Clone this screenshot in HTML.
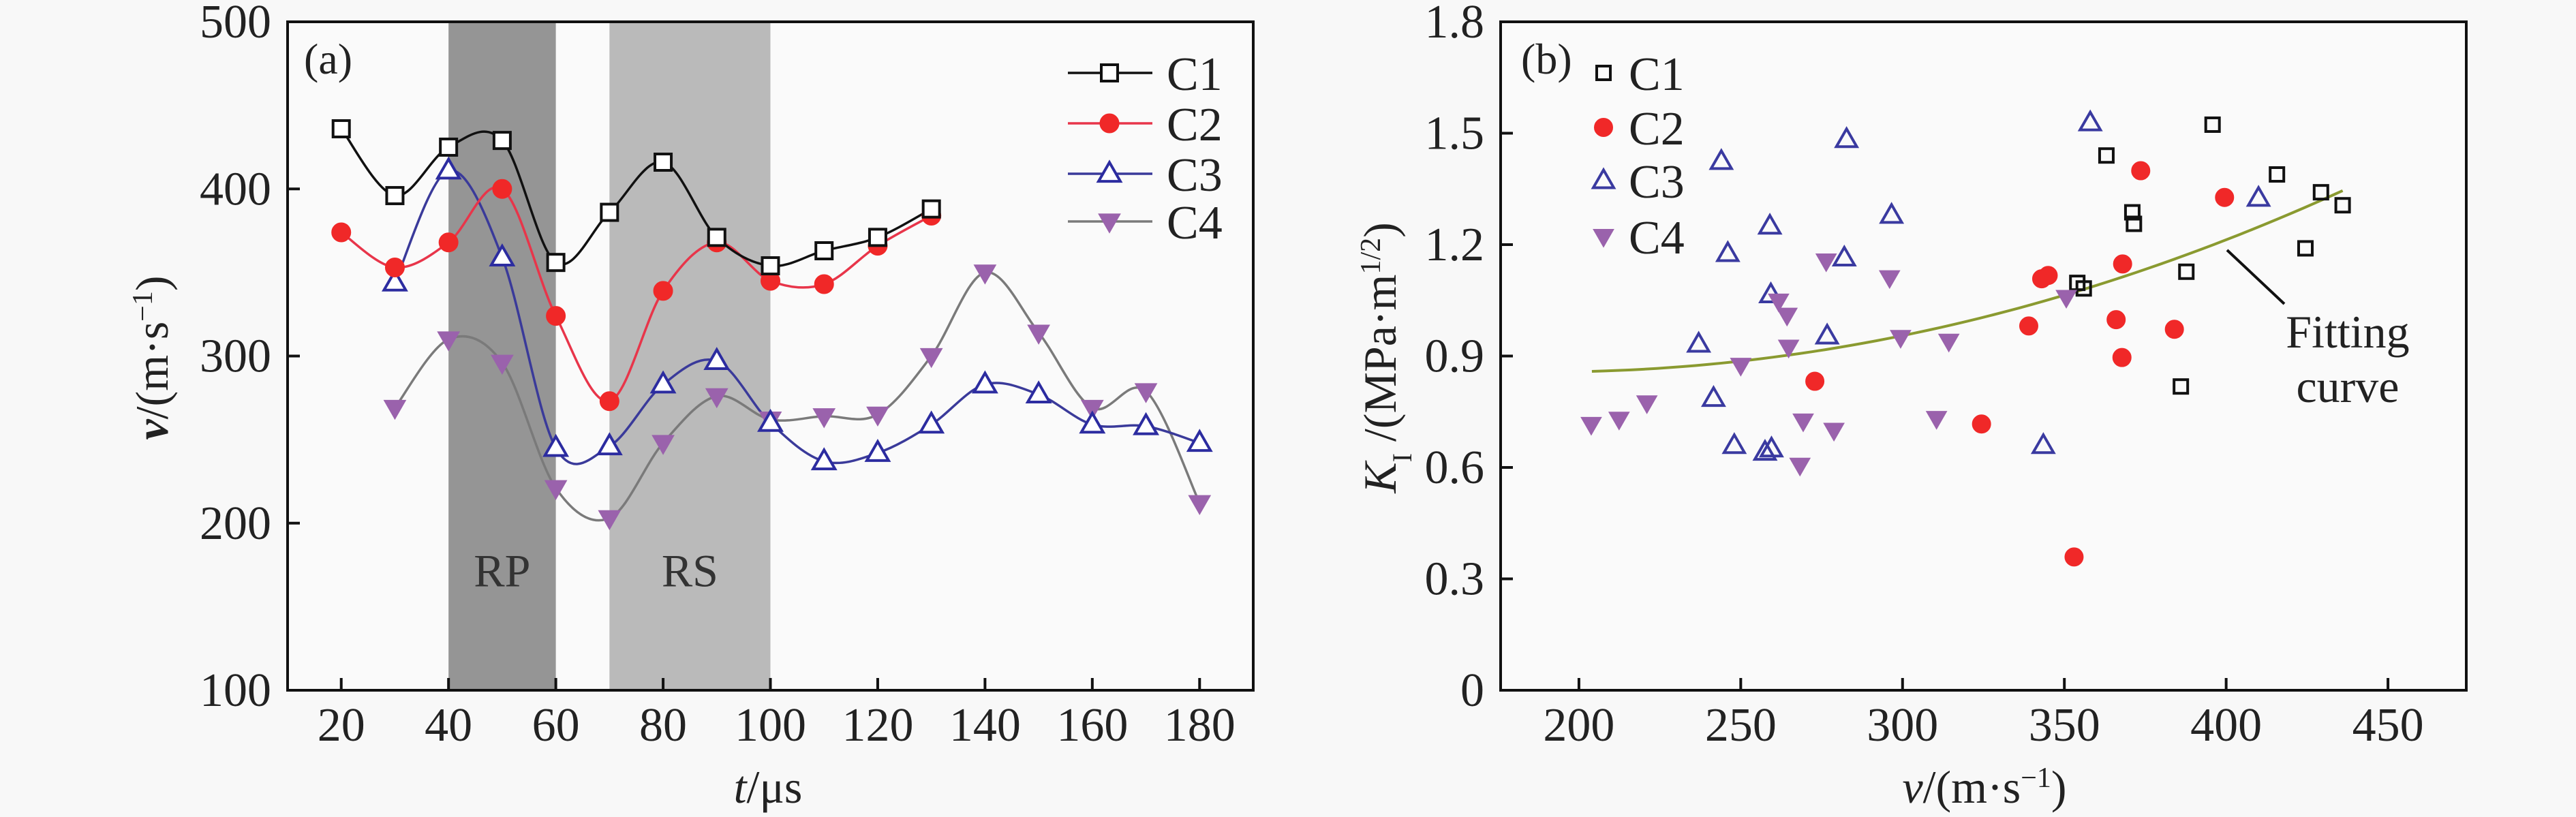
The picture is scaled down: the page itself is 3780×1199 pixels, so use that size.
<!DOCTYPE html>
<html><head><meta charset="utf-8">
<style>
html,body{margin:0;padding:0;background:#f8f8f8;}
svg{display:block;font-family:"Liberation Serif",serif;}
</style></head>
<body>
<svg id="fig" width="3780" height="1199" viewBox="0 0 3780 1199" xmlns="http://www.w3.org/2000/svg">
<rect width="3780" height="1199" fill="#f8f8f8"/>
<g id="pa"></g>
<g id="pb"></g>
</svg>
<script>
// ---- Panel (a) data ----
const aTimes1 = [20,30,40,50,60,70,80,90,100,110,120,130];
const aC1 = [436,396,425,429,356,386,416,371,354,363,371,388];
const aC2 = [374,353,368,400,324,273,339,368,345,343,366,384];
const aTimes3 = [30,40,50,60,70,80,90,100,110,120,130,140,150,160,170,180];
const aC3 = [344,411,359,245,246,283,297,260,237,242,259,283,277,259,258,248];
const aC4 = [269,310,296,221,203,248,276,262,264,265,300,350,314,269,279,212];
const aXTicks = [20,40,60,80,100,120,140,160,180];
const aYTicks = [100,200,300,400,500];
const aBands = [[40,60,'RP'],[70,100,'RS']];

// ---- Panel (b) data ----
const bC1x = [395.8,363,415.7,429.3,436,371,371.5,424.5,387.7,354,356,386];
const bC1y = [1.523,1.44,1.389,1.341,1.306,1.287,1.256,1.19,1.127,1.097,1.082,0.818];
const bC2x = [373.6,399.5,368,343,345,366,339,384,367.8,272.9,324.4,353];
const bC2y = [1.399,1.327,1.148,1.108,1.117,0.998,0.981,0.972,0.896,0.832,0.717,0.359];
const bC3x = [358,282.7,244,296.6,259,246,410,282,259.3,276.7,237,241.6,248,343.5,257.5,259.5];
const bC3y = [1.528,1.483,1.424,1.279,1.25,1.176,1.325,1.164,1.065,0.954,0.932,0.786,0.659,0.659,0.641,0.65];
const bC4x = [203.8,212.4,221,276.4,296,261.7,264.3,264.8,250,299.4,314.3,350.6,269.3,278.8,268.3,310.5];
const bC4y = [0.716,0.73,0.774,1.156,1.111,1.048,1.01,0.924,0.875,0.95,0.94,1.058,0.725,0.70,0.606,0.732];
const bFitCoef = [0.858,0.000165,0.00000805];
const bFitRange = [204,436];
const bXTicks = [200,250,300,350,400,450];
const bYTicks = ['0','0.3','0.6','0.9','1.2','1.5','1.8'];

const NS='http://www.w3.org/2000/svg';
function mk(parent,tag,attrs,text){const e=document.createElementNS(NS,tag);for(const k in attrs)e.setAttribute(k,attrs[k]);if(text!==undefined)e.textContent=text;parent.appendChild(e);return e;}

const T=32,B=1013;
const ax=v=>422+(v-10)/180*(1839-422);
const ay=v=>B-(v-100)/400*(B-T);
const BX0=2202,BX1=3619,BD0=175.8,BD1=474.2;
const bx=v=>BX0+(v-BD0)/(BD1-BD0)*(BX1-BX0);
const by=v=>B-v/1.8*(B-T);

function smooth(pts){
  let d='M'+pts[0][0]+','+pts[0][1];
  for(let i=0;i<pts.length-1;i++){
    const p0=pts[i-1]||pts[i],p1=pts[i],p2=pts[i+1],p3=pts[i+2]||p2;
    const c1=[p1[0]+(p2[0]-p0[0])/6,p1[1]+(p2[1]-p0[1])/6];
    const c2=[p2[0]-(p3[0]-p1[0])/6,p2[1]-(p3[1]-p1[1])/6];
    d+=' C'+c1[0]+','+c1[1]+' '+c2[0]+','+c2[1]+' '+p2[0]+','+p2[1];
  }
  return d;
}
function marker(g,type,x,y,s,fill,stroke){
  let e;
  if(type==='sq') e=mk(g,'rect',{x:x-s/2,y:y-s/2,width:s,height:s,fill:fill,stroke:stroke,'stroke-width':4});
  else if(type==='ci') e=mk(g,'circle',{cx:x,cy:y,r:s/2,fill:fill,stroke:stroke,'stroke-width':1});
  else if(type==='tr'){const h=s*0.87;e=mk(g,'polygon',{points:`${x},${y-h*0.6} ${x-s/2},${y+h*0.4} ${x+s/2},${y+h*0.4}`,fill:fill,stroke:stroke,'stroke-width':4});}
  else {const h=s*0.87;e=mk(g,'polygon',{points:`${x},${y+h*0.6} ${x-s/2},${y-h*0.4} ${x+s/2},${y-h*0.4}`,fill:fill,stroke:stroke,'stroke-width':1});}
  return e;
}

// ---------- Panel A ----------
const pa=document.getElementById('pa');
const plotA=mk(pa,'rect',{x:422,y:T,width:1839-422,height:B-T,fill:'#fafafa'});


aBands.forEach((b,i)=>{
  const r=mk(pa,'rect',{x:ax(b[0]),y:T,width:ax(b[1])-ax(b[0]),height:B-T,fill:i===0?'#959595':'#bababa'});
  
  
  const t=mk(pa,'text',{x:(ax(b[0])+ax(b[1]))/2,y:ay(172)+24,'font-size':68,'text-anchor':'middle',fill:'#333'},b[2]);
  
  
});
const seriesA=[
 {n:'c1',xs:aTimes1,ys:aC1,line:'#111',type:'sq',fill:'#fff',stroke:'#111',s:24},
 {n:'c2',xs:aTimes1,ys:aC2,line:'#e8354a',type:'ci',fill:'#f02828',stroke:'#f02828',s:28},
 {n:'c3',xs:aTimes3,ys:aC3,line:'#3a3a9a',type:'tr',fill:'#fff',stroke:'#2c2ca0',s:32},
 {n:'c4',xs:aTimes3,ys:aC4,line:'#7a7a7a',type:'dn',fill:'#9a62ac',stroke:'#9a62ac',s:32}
];
seriesA.slice().reverse().forEach(s=>{
  const pts=s.xs.map((x,i)=>[ax(x),ay(s.ys[i])]);
  const p=mk(pa,'path',{d:smooth(pts),fill:'none',stroke:s.line,'stroke-width':3.5});
  
  
});
seriesA.slice().reverse().forEach(s=>{
  s.xs.forEach((x,i)=>{
    const m=marker(pa,s.type,ax(x),ay(s.ys[i]),s.s,s.fill,s.stroke);
    
    
  });
});
mk(pa,'rect',{x:422,y:T,width:1839-422,height:B-T,fill:'none',stroke:'#111','stroke-width':4});
aXTicks.forEach(v=>{
  mk(pa,'line',{x1:ax(v),x2:ax(v),y1:B,y2:B-18,stroke:'#111','stroke-width':4});
  const t=mk(pa,'text',{x:ax(v),y:1087,'font-size':70,'text-anchor':'middle',fill:'#222'},v);
  
  
});
aYTicks.forEach(v=>{
  mk(pa,'line',{x1:422,x2:440,y1:ay(v),y2:ay(v),stroke:'#111','stroke-width':4});
  const t=mk(pa,'text',{x:398,y:ay(v)+23,'font-size':70,'text-anchor':'end',fill:'#222'},v);
  
  
});
let t=mk(pa,'text',{x:446,y:108,'font-size':64,fill:'#222'},'(a)');

t=mk(pa,'text',{x:1127,y:1178,'font-size':68,'text-anchor':'middle',fill:'#222'});
t.innerHTML='<tspan font-style="italic">t</tspan>/μs';

t=mk(pa,'text',{x:0,y:0,'font-size':68,'text-anchor':'middle',fill:'#222',transform:'translate(246,525) rotate(-90)'});
t.innerHTML='<tspan font-style="italic" font-weight="bold">v</tspan>/(m·s<tspan baseline-shift="super" font-size="42">−1</tspan>)';

const legA=mk(pa,'g',{});

seriesA.forEach((s,i)=>{
  const y=[107,181,255,325][i];
  mk(legA,'line',{x1:1567,x2:1691,y1:y,y2:y,stroke:s.line,'stroke-width':3.5});
  marker(legA,s.type,1628,y,s.s,s.fill,s.stroke);
  const lt=mk(legA,'text',{x:1712,y:y+25,'font-size':70,fill:'#222'},'C'+(i+1));
  
});

// ---------- Panel B ----------
const pb=document.getElementById('pb');
const plotB=mk(pb,'rect',{x:BX0,y:T,width:BX1-BX0,height:B-T,fill:'#fafafa'});


let fd='';
for(let v=bFitRange[0];v<=bFitRange[1];v+=4){
  const d=v-200;const k=bFitCoef[0]+bFitCoef[1]*d+bFitCoef[2]*d*d;
  fd+=(fd?' L':'M')+bx(v)+','+by(k);
}
const fc=mk(pb,'path',{d:fd,fill:'none',stroke:'#8a9a30','stroke-width':4});

const seriesB=[
 {n:'c1',xs:bC1x,ys:bC1y,type:'sq',fill:'none',stroke:'#111',s:20},
 {n:'c2',xs:bC2x,ys:bC2y,type:'ci',fill:'#f02828',stroke:'#f02828',s:27},
 {n:'c3',xs:bC3x,ys:bC3y,type:'tr',fill:'none',stroke:'#3a3aa0',s:30},
 {n:'c4',xs:bC4x,ys:bC4y,type:'dn',fill:'#9a62ac',stroke:'#9a62ac',s:30}
];
seriesB.forEach(s=>{
  s.xs.forEach((x,i)=>{
    const m=marker(pb,s.type,bx(x),by(s.ys[i]),s.s,s.fill,s.stroke);
    
    
  });
});
mk(pb,'rect',{x:BX0,y:T,width:BX1-BX0,height:B-T,fill:'none',stroke:'#111','stroke-width':4});
bXTicks.forEach(v=>{
  mk(pb,'line',{x1:bx(v),x2:bx(v),y1:B,y2:B-18,stroke:'#111','stroke-width':4});
  const t=mk(pb,'text',{x:bx(v),y:1087,'font-size':70,'text-anchor':'middle',fill:'#222'},v);
  
  
});
bYTicks.forEach(v=>{
  mk(pb,'line',{x1:BX0,x2:BX0+18,y1:by(+v),y2:by(+v),stroke:'#111','stroke-width':4});
  const t=mk(pb,'text',{x:2178,y:by(+v)+23,'font-size':70,'text-anchor':'end',fill:'#222'},v);
  
  
});
t=mk(pb,'text',{x:2232,y:108,'font-size':64,fill:'#222'},'(b)');

t=mk(pb,'text',{x:2912,y:1178,'font-size':68,'text-anchor':'middle',fill:'#222'});
t.innerHTML='<tspan font-style="italic">v</tspan>/(m·s<tspan baseline-shift="super" font-size="42">−1</tspan>)';

t=mk(pb,'text',{x:0,y:0,'font-size':68,'text-anchor':'middle',fill:'#222',transform:'translate(2048,525) rotate(-90)'});
t.innerHTML='<tspan font-style="italic">K</tspan><tspan baseline-shift="sub" font-size="40">I</tspan> /(MPa·m<tspan baseline-shift="super" font-size="42">1/2</tspan>)';

const legB=mk(pb,'g',{});

seriesB.forEach((s,i)=>{
  const y=[107,187,265,347][i];
  marker(legB,s.type,2353,y,s.s,s.fill,s.stroke);
  const lt=mk(legB,'text',{x:2390,y:y+25,'font-size':70,fill:'#222'},'C'+(i+1));
  
});
const al=mk(pb,'line',{x1:3268,y1:367,x2:3352,y2:446,stroke:'#111','stroke-width':4});

t=mk(pb,'text',{x:3445,y:510,'font-size':68,'text-anchor':'middle',fill:'#222'},'Fitting');

t=mk(pb,'text',{x:3445,y:590,'font-size':68,'text-anchor':'middle',fill:'#222'},'curve');

</script>
</body></html>
